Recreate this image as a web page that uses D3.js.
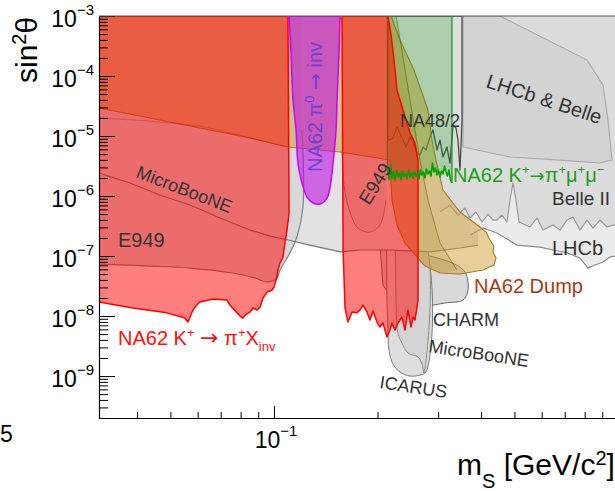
<!DOCTYPE html>
<html><head><meta charset="utf-8">
<script src="https://cdn.jsdelivr.net/npm/d3@7"></script>
<style>
body{margin:0;background:#fff}
svg{display:block;font-family:"Liberation Sans",Arial,sans-serif}
text{white-space:pre}
</style>
</head><body>
<svg id="c" width="615" height="491"></svg>
<script>
// ---------- data: [mass (GeV/c^2), sin^2 theta] ----------
const microBooNEKaon = [[0.031,1e-3],[0.392,1e-3],[0.392,1.52e-7],[0.347,1.36e-7],[0.284,1.17e-7],[0.217,1.26e-7],[0.178,1.26e-7],[0.156,1.17e-7],[0.127,1.52e-7],[0.110,1.85e-7],[0.0974,2.15e-7],[0.0852,2.71e-7],[0.0697,4.3e-7],[0.057,7.08e-7],[0.0466,1.04e-6],[0.0381,1.65e-6],[0.031,2.42e-6]];
const e949Low = [[0.031,1e-3],[0.1206,1e-3],[0.1206,1.26e-5],[0.1214,6.56e-7],[0.1166,2.08e-7],[0.1113,1.13e-7],[0.1041,5.84e-8],[0.102,4.3e-8],[0.0955,3.69e-8],[0.0881,4.3e-8],[0.076,5.21e-8],[0.057,6.31e-8],[0.0436,6.81e-8],[0.031,7.36e-8]];
const e949High = [[0.1577,1e-3],[0.2116,1e-3],[0.2116,8.58e-7],[0.2033,3.28e-7],[0.1901,2.51e-7],[0.1755,2.93e-7],[0.1663,5.41e-7],[0.1598,1.52e-6],[0.1577,5.84e-6]];
const na482 = [[0.2145,1e-3],[0.352,1e-3],[0.352,1.85e-5],[0.3473,2.71e-6],[0.3427,8.58e-6],[0.3381,1.36e-5],[0.3314,1.52e-5],[0.3248,3.55e-6],[0.3183,6.56e-6],[0.3099,4.47e-6],[0.3038,8.58e-6],[0.2977,5.84e-6],[0.2898,1.26e-5],[0.2841,9.62e-6],[0.2766,5.84e-6],[0.2711,6.56e-6],[0.2657,4.82e-6],[0.2604,5.21e-6],[0.2535,7.94e-6],[0.2485,9.62e-6],[0.2419,6.56e-6],[0.2371,8.58e-6],[0.2324,1.12e-5],[0.2278,1.41e-5],[0.2218,9.26e-6],[0.2174,8.58e-6],[0.2145,8.58e-6]];
const lhcbBelle = [[0.3543,1e-3],[0.4539,1e-3],[0.8125,1.85e-4],[0.9044,7.08e-5],[0.935,1.85e-5],[0.9606,3.98e-6],[0.8864,3.55e-6],[0.6782,3.98e-6],[0.4853,4.47e-6],[0.3543,6.56e-6]];
const belle2Edge = [[0.3038,5.41e-7],[0.3248,7.08e-7],[0.3427,4.82e-7],[0.3591,6.31e-7],[0.3713,4.3e-7],[0.3865,5.41e-7],[0.4024,3.69e-7],[0.4189,5.01e-7],[0.4331,3.98e-7],[0.4449,3.98e-7],[0.46,4.82e-7],[0.4757,3.69e-7],[0.4853,8.58e-7],[0.4952,1.65e-6],[0.5052,8.58e-7],[0.5154,3.69e-7],[0.5548,3.05e-7],[0.5814,4.3e-7],[0.6052,2.71e-7],[0.6471,3.28e-7],[0.6782,2.71e-7],[0.7107,3.98e-7],[0.7398,4.47e-7],[0.7753,2.71e-7],[0.8125,3.98e-7],[0.8458,2.93e-7],[0.8864,3.98e-7],[0.9289,3.05e-7],[1.013,3.55e-7]];
const lhcbEdge = [[1.013,1.04e-7],[0.9478,9.62e-8],[0.9044,7.94e-8],[0.857,7.08e-8],[0.818,6.31e-8],[0.7753,9.26e-8],[0.7107,1.13e-7],[0.6471,1.26e-7],[0.5932,1.41e-7],[0.5086,1.52e-7],[0.4449,2.42e-7],[0.4051,2.93e-7],[0.3713,2.24e-7]];
const charm = [[0.2033,1.52e-7],[0.3248,7.94e-8],[0.3591,5.41e-8],[0.3664,2.71e-8],[0.3543,1.85e-8],[0.3141,1.65e-8],[0.2747,1.47e-8],[0.2519,1.52e-8],[0.2248,1.85e-8],[0.2074,3.28e-8]];
const icarus = [[0.2116,8.58e-7],[0.2766,1.26e-7],[0.2766,1.17e-9],[0.2657,1.04e-9],[0.2485,1.0e-9],[0.2324,1.17e-9],[0.2218,1.58e-9],[0.2159,2.71e-9],[0.2145,5.84e-9],[0.213,1.85e-8]];
const microBooNEDump = [[0.2248,2.71e-7],[0.2729,1.85e-7],[0.2729,1.13e-9],[0.2693,1.58e-9],[0.2622,2.08e-9],[0.2452,2.42e-9],[0.2355,3.55e-9],[0.2293,5.21e-9],[0.2263,1.85e-8]];
const na62Dump = [[0.031,1e-3],[0.2189,1e-3],[0.2324,3.98e-4],[0.2552,1.26e-4],[0.2693,5.21e-5],[0.2803,2.71e-5],[0.2879,8.58e-6],[0.2957,3.98e-6],[0.3099,1.26e-6],[0.3473,5.41e-7],[0.397,3.05e-7],[0.4133,2.51e-7],[0.4245,1.85e-7],[0.436,1.47e-7],[0.4331,1.17e-7],[0.4419,9.26e-8],[0.436,7.08e-8],[0.4051,5.84e-8],[0.3473,5.01e-8],[0.3038,5.21e-8],[0.2747,6.81e-8],[0.2622,9.26e-8],[0.2403,1.65e-7],[0.2278,3.28e-7],[0.2203,8.58e-7],[0.2174,3.98e-6],[0.1556,5.41e-6],[0.1098,6.56e-6],[0.0852,9.26e-6],[0.0609,1.36e-5],[0.0436,2.0e-5],[0.031,2.93e-5]];
const na62DumpInner = [[0.2145,1e-3],[0.2263,1e-3],[0.2355,2.71e-4],[0.2485,3.98e-5],[0.2657,3.98e-6],[0.2803,8.58e-7],[0.3038,1.65e-7],[0.3404,5.84e-8],[0.3038,5.21e-8],[0.2747,6.81e-8],[0.2622,9.26e-8],[0.2403,1.65e-7],[0.2278,3.28e-7],[0.2203,8.58e-7],[0.2174,3.98e-6],[0.2145,3.98e-5]];
const upperContour = [[0.031,2.0e-5],[0.0436,1.78e-5],[0.0609,1.47e-5],[0.0797,1.04e-5],[0.1091,6.56e-6]];
const na62InvLow = [[0.031,1e-3],[0.1098,1e-3],[0.1106,5.21e-7],[0.1091,2.71e-7],[0.1076,1.65e-7],[0.1062,9.62e-8],[0.1041,7.65e-8],[0.1027,5.84e-8],[0.102,4.47e-8],[0.1,3.05e-8],[0.0987,2.71e-8],[0.0955,2.51e-8],[0.0929,2.0e-8],[0.0911,1.41e-8],[0.0893,1.26e-8],[0.0869,1.36e-8],[0.0852,1.17e-8],[0.0824,1.04e-8],[0.0813,9.26e-9],[0.0797,1.0e-8],[0.0781,1.13e-8],[0.0745,1.52e-8],[0.073,1.85e-8],[0.0665,1.93e-8],[0.0609,1.71e-8],[0.0589,1.41e-8],[0.0578,1.17e-8],[0.0562,7.94e-9],[0.0551,9.26e-9],[0.0488,1.13e-8],[0.0389,1.36e-8],[0.031,1.71e-8]];
const na62InvHigh = [[0.1577,1e-3],[0.2145,1e-3],[0.2189,4.82e-4],[0.2233,1.85e-4],[0.2278,5.84e-5],[0.2371,2.71e-5],[0.2485,1.13e-5],[0.2569,7.65e-6],[0.2622,3.98e-6],[0.2622,1.85e-8],[0.2604,1.41e-8],[0.2569,8.58e-9],[0.2535,9.62e-9],[0.2502,6.56e-9],[0.2452,1.26e-8],[0.2403,5.84e-9],[0.2355,9.62e-9],[0.2293,7.65e-9],[0.2248,5.84e-9],[0.2203,7.65e-9],[0.2174,5.84e-9],[0.213,4.47e-9],[0.2074,7.65e-9],[0.2033,6.56e-9],[0.1993,7.94e-9],[0.194,1.21e-8],[0.1901,8.58e-9],[0.1863,1.17e-8],[0.1814,1.52e-8],[0.1778,1.26e-8],[0.1743,1.13e-8],[0.1686,1.17e-8],[0.1641,7.94e-9],[0.1609,1.36e-8],[0.1588,1.26e-7]];
const na62Pi0 = [[0.1106,1e-3],[0.112,2.71e-4],[0.1136,3.98e-5],[0.1159,1.26e-5],[0.1174,3.55e-6],[0.1206,1.65e-6],[0.1247,9.62e-7],[0.1299,7.65e-7],[0.1361,7.36e-7],[0.1426,9.26e-7],[0.1455,1.41e-6],[0.1485,3.55e-6],[0.1515,1.26e-5],[0.1525,3.98e-5],[0.1546,2.71e-4],[0.1556,1e-3]];
const muMuMass = [0.2137,0.2159,0.2181,0.2203,0.2225,0.2247,0.227,0.2293,0.2316,0.2339,0.2363,0.2387,0.2411,0.2435,0.246,0.2485,0.251,0.2535,0.2561,0.2587,0.2613,0.2639,0.2666,0.2693,0.272,0.2747,0.2775,0.2803,0.2831,0.286,0.2889,0.2918,0.2947,0.2977,0.3007,0.3037,0.3068,0.3099,0.313,0.3162,0.3193,0.3226,0.3258,0.3291];
const muMuSin2 = [2.93e-6,1.85e-6,3.28e-6,2.0e-6,2.51e-6,1.78e-6,2.71e-6,2.08e-6,2.42e-6,1.85e-6,2.61e-6,2.15e-6,2.33e-6,1.93e-6,2.71e-6,2.08e-6,2.42e-6,2.0e-6,2.61e-6,2.15e-6,2.33e-6,1.93e-6,2.71e-6,2.24e-6,2.51e-6,2.0e-6,2.82e-6,2.33e-6,2.61e-6,2.15e-6,3.55e-6,2.51e-6,2.93e-6,2.24e-6,2.71e-6,2.08e-6,2.61e-6,2.33e-6,3.16e-6,2.51e-6,2.15e-6,2.71e-6,1.85e-6,1.65e-6];
const yMajor = [1e-3,1e-4,1e-5,1e-6,1e-7,1e-8,1e-9];
const yExp = ["−3","−4","−5","−6","−7","−8","−9"];
const yMinorMult = [2,3,4,5,6,7,8,9];
const xMajor = [0.1];
const xExp = ["−1"];
const xMinor = [0.04,0.05,0.06,0.07,0.08,0.09,0.2,0.3,0.4,0.5,0.6,0.7,0.8,0.9];

// ---------- scales ----------
const svg = d3.select("#c");
const x = d3.scaleLog().domain([0.031,1]).range([99,618]);
const y = d3.scaleLog().domain([2e-10,1e-3]).range([418,16]);
const lin = d3.line().x(d=>x(d[0])).y(d=>y(d[1]));
const smooth = d3.line().x(d=>x(d[0])).y(d=>y(d[1])).curve(d3.curveCatmullRom.alpha(0.5));

svg.append("defs").append("clipPath").attr("id","clip")
  .append("rect").attr("x",99).attr("y",16).attr("width",519).attr("height",402);
const plot = svg.append("g").attr("clip-path","url(#clip)");

function fillP(d, fill, gen){ return plot.append("path").attr("d",(gen||lin)(d)+"Z").attr("fill",fill).attr("stroke","none"); }
function lineP(d, stroke, w, gen){ return plot.append("path").attr("d",(gen||lin)(d)).attr("fill","none").attr("stroke",stroke).attr("stroke-width",w).attr("stroke-linejoin","round"); }
function shape(d, fill, stroke, w, gen){ fillP(d,fill,gen); return plot.append("path").attr("d",(gen||lin)(d)+"Z").attr("fill","none").attr("stroke",stroke).attr("stroke-width",w).attr("stroke-linejoin","round"); }

// lower gray regions
shape(charm, "#d9d9d9", "#666", 1, smooth);
shape(icarus, "#dedede", "#777", 1, smooth);
shape(microBooNEDump, "#d4d4d4", "#888", 1, smooth);
// MicroBooNE kaon region
fillP(microBooNEKaon, "#e2e2e2");
// LHCb
const lhcbPoly = [[0.3713,1e-3],[1.013,1e-3]].concat(lhcbEdge);
fillP(lhcbPoly, "#ebebeb"); lineP(lhcbEdge, "#8a8a8a", 1.2);
// Belle II
const belle2Poly = [[0.3038,1e-3],[1.013,1e-3]].concat(belle2Edge.slice().reverse());
fillP(belle2Poly, "#dcdcdc"); lineP(belle2Edge, "#999", 1.2);
// LHCb & Belle
shape(lhcbBelle, "#d3d3d3", "#aaa", 1.2);
// NA48/2
shape(na482, "#dedede", "#4a4a4a", 1.3);
// E949
fillP(e949Low, "#d8d8d8"); lineP(e949Low.slice(2), "#808080", 1.2, smooth);
fillP(e949High, "#d8d8d8"); lineP(e949High.slice(2), "#8a8a8a", 1, smooth);
// MicroBooNE boundary line
lineP(microBooNEKaon.slice(2), "#777", 1.2);
// NA62 dump (tan)
fillP(na62Dump, "rgba(205,160,50,0.5)");
lineP(na62Dump.slice(1), "#a87a2a", 1.1);
fillP(na62DumpInner, "rgba(160,120,30,0.18)");
lineP(na62DumpInner.slice(1,8), "rgba(110,90,30,0.6)", 1);
lineP(upperContour, "rgba(110,60,40,0.35)", 1.2);
// NA62 K -> pi mu mu (green)
const muMu = muMuMass.map((m,i)=>[m, muMuSin2[i]]);
const greenPoly = [[0.2137,1e-3],[0.3291,1e-3]].concat(muMu.slice().reverse());
fillP(greenPoly, "rgba(0,150,0,0.22)");
lineP([[0.2137,1e-3],[0.2137,2.93e-6]], "#1a9a1a", 1.3);
lineP([[0.3291,1e-3],[0.3291,1.65e-6]], "#1a9a1a", 1.3);
// NA62 K -> pi X_inv (red)
shape(na62InvLow, "rgba(255,0,0,0.5)", "#ff0000", 1.5);
shape(na62InvHigh, "rgba(255,0,0,0.5)", "#ff0000", 1.5);
// NA62 pi0 -> inv (purple)
shape(na62Pi0, "rgba(190,0,230,0.55)", "#cc00ff", 1.5, smooth);
// green noisy line
lineP(muMu, "#00a000", 1.6);

// ---------- axes ----------
const yMinor = [];
[1e-10,1e-9,1e-8,1e-7,1e-6,1e-5,1e-4].forEach(dec=>yMinorMult.forEach(k=>{const v=k*dec; if(v>=2e-10 && v<1e-3) yMinor.push(v);}));
const axY = svg.append("g").attr("transform","translate(99,0)");
axY.call(d3.axisLeft(y).tickValues(yMajor).tickSize(-16).tickSizeOuter(0).tickFormat(""));
axY.append("g").call(d3.axisLeft(y).tickValues(yMinor).tickSize(-9).tickSizeOuter(0).tickFormat("")).select(".domain").remove();
const axX = svg.append("g").attr("transform","translate(0,418)");
axX.call(d3.axisBottom(x).tickValues(xMajor).tickSize(-12).tickSizeOuter(0).tickFormat(""));
axX.append("g").call(d3.axisBottom(x).tickValues(xMinor).tickSize(-6).tickSizeOuter(0).tickFormat("")).select(".domain").remove();
svg.selectAll(".domain").attr("stroke","#000").attr("stroke-width",1.2);
svg.selectAll(".tick line").attr("stroke","#000").attr("stroke-width",1);
svg.append("line").attr("x1",99).attr("x2",618).attr("y1",16).attr("y2",16).attr("stroke","#555").attr("stroke-width",1);

// ---------- rich text helper ----------
function rich(segs, size, fill, attrs){
  const t = svg.append("text").attr("font-size",size).attr("fill",fill);
  Object.entries(attrs||{}).forEach(([k,v])=>t.attr(k,v));
  let cur = 0;
  segs.forEach(s=>{
    const k = s.k||"n";
    const fs = s.s || (k==="n" ? size : size*0.65);
    const off = s.o!==undefined ? s.o : (k==="sup" ? -0.42*size : k==="sub" ? 0.3*size : 0);
    const ts = t.append("tspan").attr("font-size",fs).attr("dy",off-cur).text(s.t);
    if (s.f) ts.attr("font-family", s.f);
    cur = off;
  });
  return t;
}
const AR = "DejaVu Sans";

// tick labels
yMajor.forEach((v,i)=>{
  rich([{t:"10"},{t:yExp[i],k:"sup",s:15,o:-12}], 23, "#000", {x:94, y:y(v)+11, "text-anchor":"end"});
});
xMajor.forEach((v,i)=>{
  rich([{t:"10"},{t:xExp[i],k:"sup",s:15,o:-12}], 23, "#000", {x:x(v)+2, y:448, "text-anchor":"middle"});
});
svg.append("text").attr("x",0).attr("y",442).attr("font-size",23).text("5");

// axis titles
rich([{t:"m"},{t:"S",k:"sub",s:20,o:13},{t:" [GeV/c"},{t:"2",k:"sup",s:20,o:-10},{t:"]"}], 30, "#000", {x:457, y:475});
rich([{t:"sin"},{t:"2",k:"sup",s:20,o:-11},{t:"θ"}], 30, "#000", {transform:"translate(37,83) rotate(-90)"});

// region labels
const dark = "#333";
rich([{t:"NA62 K"},{t:"+",k:"sup",s:13,o:-8},{t:" "},{t:"→",f:AR,s:22},{t:" π"},{t:"+",k:"sup",s:13,o:-8},{t:"X"},{t:"inv",k:"sub",s:13,o:6}], 20, "#ff1010", {x:118, y:345});
rich([{t:"E949"}], 20, dark, {x:118, y:247});
rich([{t:"MicroBooNE"}], 18, dark, {transform:"translate(135,177) rotate(21)"});
rich([{t:"NA62 π"},{t:"0",k:"sup",s:13,o:-8},{t:" "},{t:"→",f:AR,s:20},{t:" inv"}], 20, "#7040d0", {transform:"translate(322,107) rotate(-90)", "text-anchor":"middle"});
rich([{t:"E949"}], 19, dark, {transform:"translate(369,206) rotate(-58)"});
rich([{t:"NA48/2"}], 18, dark, {x:400, y:127});
rich([{t:"NA62 K"},{t:"+",k:"sup",s:13,o:-8},{t:"→",f:AR,s:18},{t:"π"},{t:"+",k:"sup",s:13,o:-8},{t:"μ"},{t:"+",k:"sup",s:13,o:-8},{t:"μ"},{t:"−",k:"sup",s:13,o:-8}], 20, "#1e9e1e", {x:453, y:182});
rich([{t:"Belle II"}], 19, dark, {x:552, y:205});
rich([{t:"LHCb & Belle"}], 20, dark, {transform:"translate(485,87) rotate(18)"});
rich([{t:"LHCb"}], 20, dark, {x:552, y:255});
rich([{t:"NA62 Dump"}], 20, "#a33a16", {x:474, y:293});
rich([{t:"CHARM"}], 18, dark, {x:433, y:326});
rich([{t:"MicroBooNE"}], 18, dark, {transform:"translate(428,352) rotate(8.5)"});
rich([{t:"ICARUS"}], 18, dark, {transform:"translate(379,388) rotate(8.6)"});
</script>
</body></html>
